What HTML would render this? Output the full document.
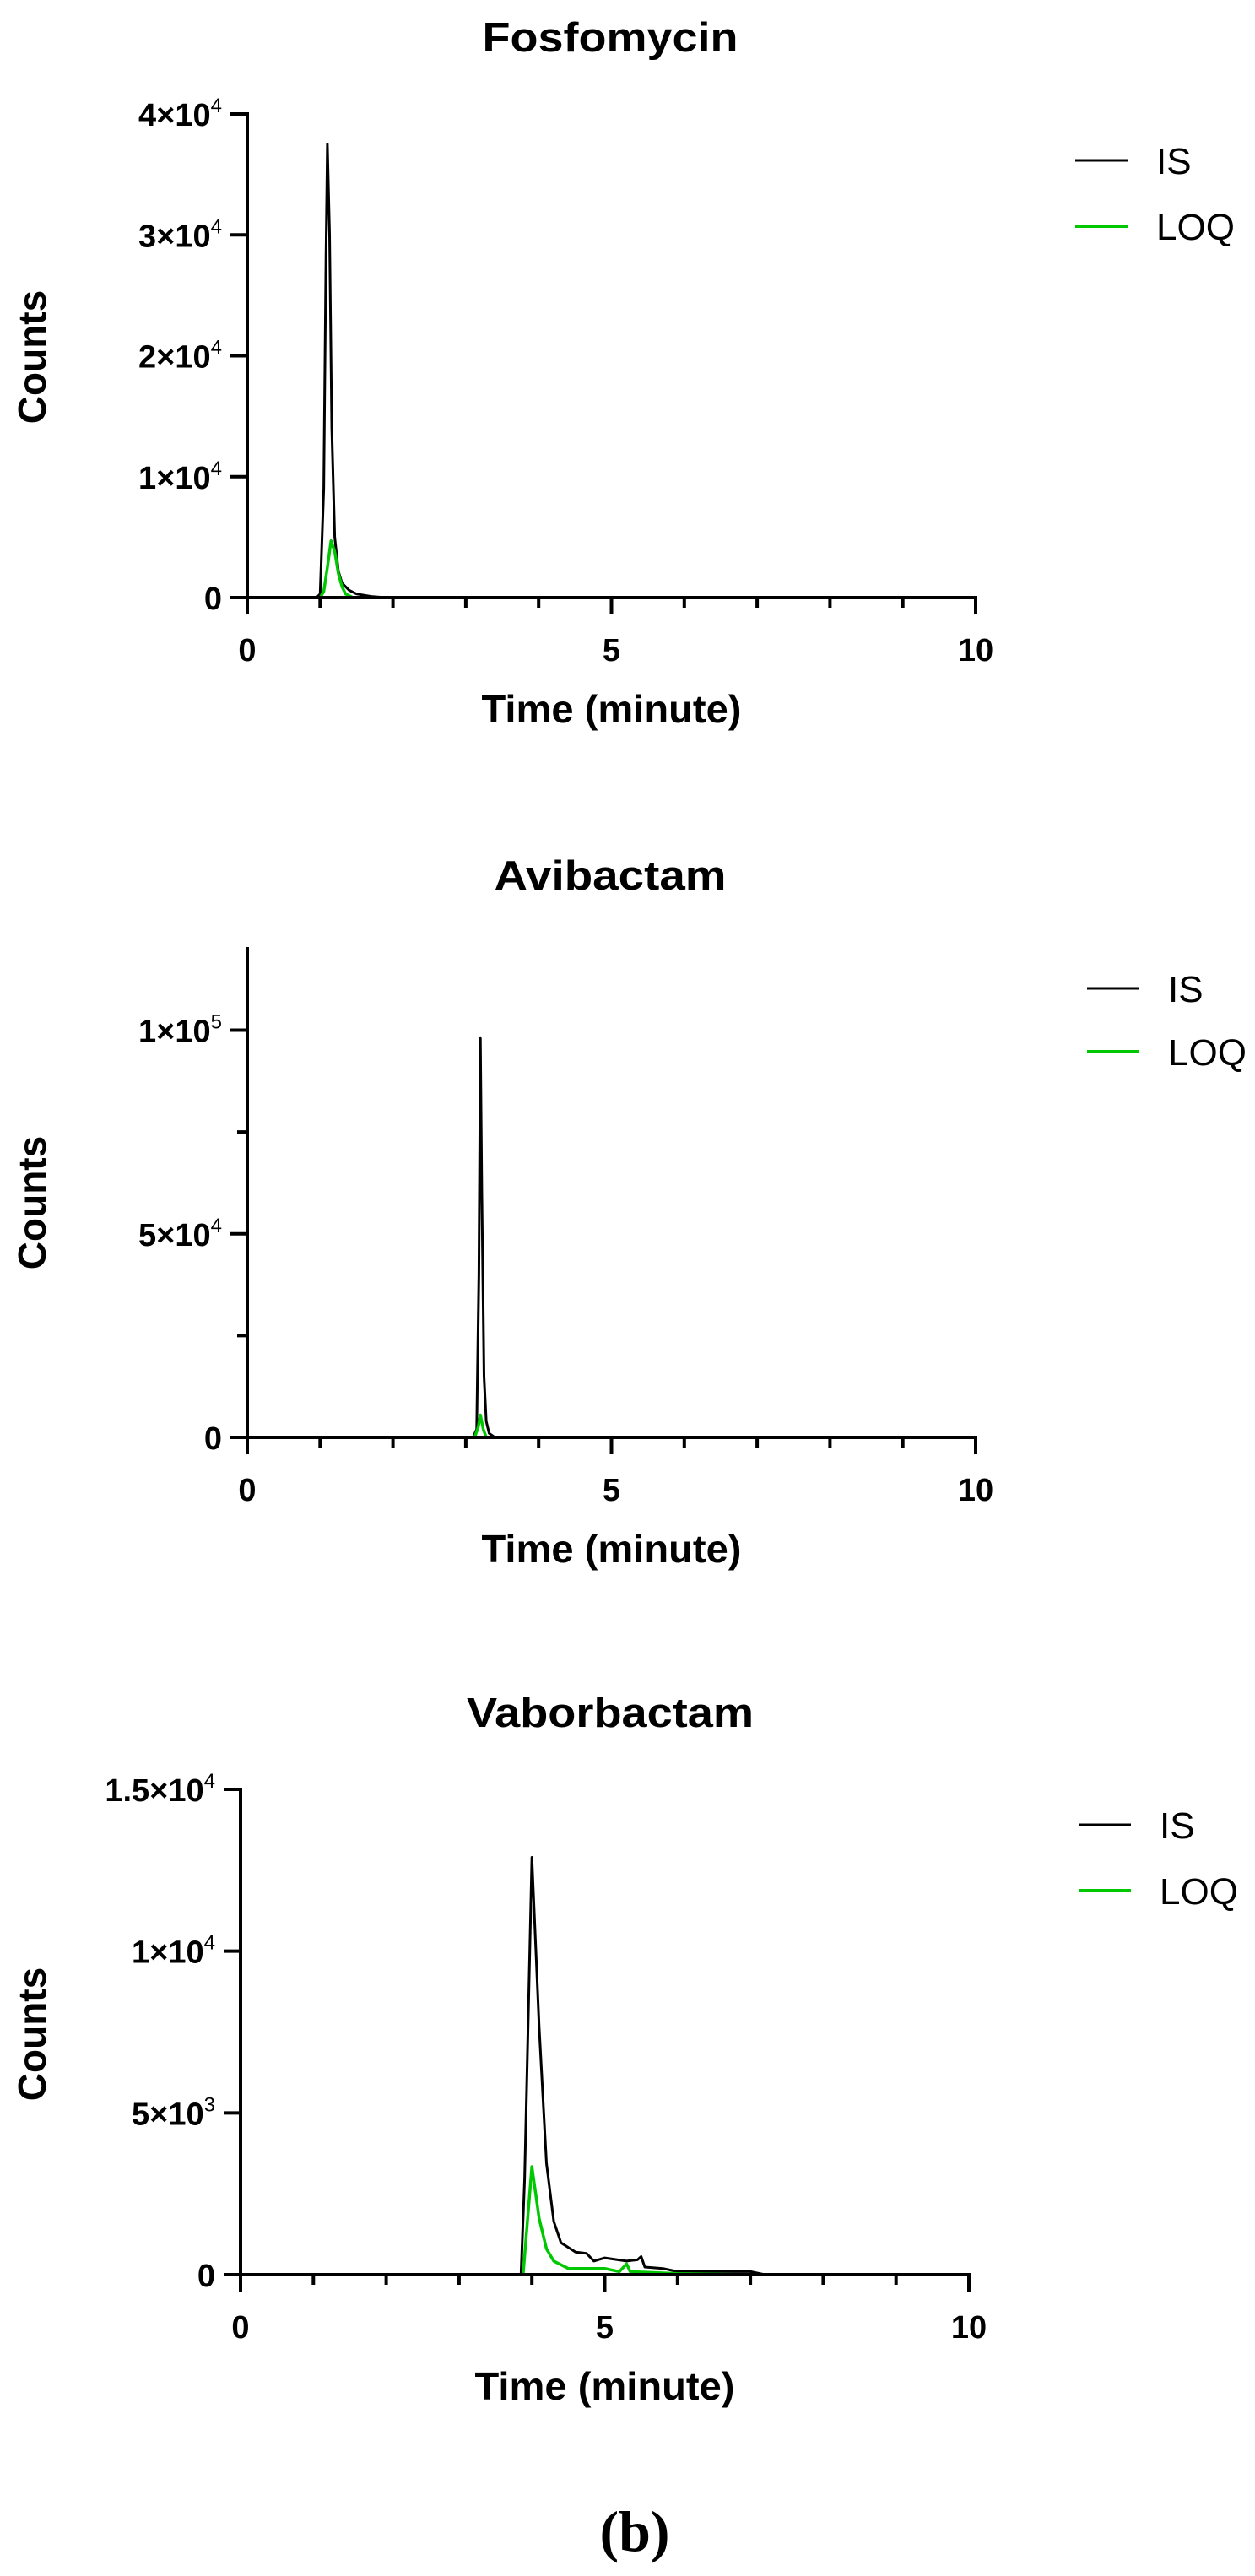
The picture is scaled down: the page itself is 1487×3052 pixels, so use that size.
<!DOCTYPE html>
<html><head><meta charset="utf-8"><style>
html,body{margin:0;padding:0;background:#fff}
svg{display:block}
text{font-family:"Liberation Sans",Arial,sans-serif;font-weight:bold;fill:#000}
</style></head>
<body>
<svg id="fig" width="1487" height="3052" viewBox="0 0 1487 3052" xmlns="http://www.w3.org/2000/svg">
<text x="752" y="3022" text-anchor="middle" style="font-family:'Liberation Serif',serif;font-size:68px;font-weight:bold">(b)</text>
</svg>
<script>
// Fosfomycin
const fosTime = [0, 0.95, 1.0, 1.05, 1.08, 1.1, 1.13, 1.16, 1.2, 1.25, 1.3, 1.4, 1.5, 1.7, 1.9, 10];
const fosIS   = [0, 0, 300, 9000, 28000, 37500, 30000, 14000, 5000, 2200, 1200, 600, 300, 100, 0, 0];
const fosLoqTime = [0, 1.0, 1.05, 1.1, 1.15, 1.2, 1.25, 1.3, 1.35, 1.45, 10];
const fosLOQ  = [0, 0, 500, 2500, 4700, 3800, 2000, 900, 300, 0, 0];
const fosYTicks = [0, 10000, 20000, 30000, 40000];
const fosYLabels = ["0", "1×10", "2×10", "3×10", "4×10"];
const fosYExp = ["", "4", "4", "4", "4"];
// Avibactam
const aviTime = [0, 3.1, 3.15, 3.18, 3.2, 3.22, 3.25, 3.28, 3.32, 3.4, 10];
const aviIS   = [0, 0, 2000, 40000, 98000, 60000, 15000, 4000, 1000, 0, 0];
const aviLoqTime = [0, 3.12, 3.17, 3.2, 3.24, 3.28, 10];
const aviLOQ  = [0, 0, 2500, 5500, 2000, 0, 0];
const aviYTicks = [0, 50000, 100000];
const aviYLabels = ["0", "5×10", "1×10"];
const aviYExp = ["", "4", "5"];
const aviYMinor = [25000, 75000];
// Vaborbactam
const vabTime = [0, 3.85, 3.9, 4.0, 4.1, 4.2, 4.3, 4.4, 4.6, 4.75, 4.85, 5.0, 5.3, 5.45, 5.5, 5.55, 5.8, 6.0, 6.5, 7.0, 7.2, 10];
const vabIS   = [0, 0, 2960, 12900, 7670, 3440, 1650, 990, 700, 660, 420, 520, 420, 460, 560, 235, 190, 95, 95, 95, 0, 0];
const vabLoqTime = [0, 3.88, 4.0, 4.1, 4.2, 4.3, 4.5, 4.75, 5.0, 5.2, 5.3, 5.35, 6.0, 7.0, 10];
const vabLOQ  = [0, 0, 3340, 1740, 800, 420, 190, 190, 190, 95, 330, 95, 30, 0, 0];
const vabYTicks = [0, 5000, 10000, 15000];
const vabYLabels = ["0", "5×10", "1×10", "1.5×10"];
const vabYExp = ["", "3", "4", "4"];
const xTicksMajor = [0, 5, 10];
const xTicksMinor = [1, 2, 3, 4, 6, 7, 8, 9];

const NS = "http://www.w3.org/2000/svg";
const svg = document.getElementById('fig');
function mk(tag, attrs, parent) {
  const e = document.createElementNS(NS, tag);
  for (const k in attrs) e.setAttribute(k, attrs[k]);
  (parent || svg).appendChild(e);
  return e;
}

function chart(cfg) {
  const g = mk('g', {});
  
  
  const xS = v => cfg.x0 + (v / 10) * (cfg.x1 - cfg.x0);
  const yS = v => cfg.y0 - (v / cfg.ymax) * (cfg.y0 - cfg.yTop);

  const t = mk('text', {x: 723, y: cfg.titleY, 'text-anchor': 'middle', 'font-size': 49, textLength: cfg.titleW, lengthAdjust: 'spacingAndGlyphs'}, g);
  t.textContent = cfg.title;
  
  

  const drawLine = (xs, ys, color, w, nm) => {
    let d = '';
    for (let i = 0; i < xs.length; i++) d += (i ? 'L' : 'M') + xS(xs[i]).toFixed(1) + ' ' + yS(ys[i]).toFixed(1);
    const p = mk('path', {d: d, fill: 'none', stroke: color, 'stroke-width': w, 'stroke-linejoin': 'round'}, g);
    
    
  };
  drawLine(cfg.tIS, cfg.vIS, '#000', 3, 'is-series');
  drawLine(cfg.tLOQ, cfg.vLOQ, '#00c800', 3.5, 'loq-series');

  const ya = mk('line', {x1: cfg.x0, y1: cfg.yTop - 2, x2: cfg.x0, y2: cfg.y0 + 2, stroke: '#000', 'stroke-width': 4}, g);
  
  
  const xa = mk('line', {x1: cfg.x0 - 20, y1: cfg.y0, x2: cfg.x1 + 2, y2: cfg.y0, stroke: '#000', 'stroke-width': 4}, g);
  
  

  xTicksMajor.forEach(v => {
    mk('line', {x1: xS(v), y1: cfg.y0, x2: xS(v), y2: cfg.y0 + 20, stroke: '#000', 'stroke-width': 4}, g);
    const tx = mk('text', {x: xS(v), y: cfg.y0 + 75, 'text-anchor': 'middle', 'font-size': 38}, g);
    tx.textContent = String(v);
    
    
  });
  xTicksMinor.forEach(v => {
    mk('line', {x1: xS(v), y1: cfg.y0, x2: xS(v), y2: cfg.y0 + 12, stroke: '#000', 'stroke-width': 4}, g);
  });
  cfg.yTicks.forEach((v, i) => {
    mk('line', {x1: cfg.x0 - 20, y1: yS(v), x2: cfg.x0, y2: yS(v), stroke: '#000', 'stroke-width': 4}, g);
    const ty = mk('text', {x: cfg.x0 - 30, y: yS(v) + 14, 'text-anchor': 'end', 'font-size': 38}, g);
    
    
    ty.appendChild(document.createTextNode(cfg.yLabels[i]));
    if (cfg.yExp[i]) {
      const s = mk('tspan', {dy: -16, 'font-size': 24, style: 'font-weight:normal'}, ty);
      s.textContent = cfg.yExp[i];
    }
  });
  (cfg.yMinor || []).forEach(v => {
    mk('line', {x1: cfg.x0 - 12, y1: yS(v), x2: cfg.x0, y2: yS(v), stroke: '#000', 'stroke-width': 4}, g);
  });

  const xt = mk('text', {x: (cfg.x0 + cfg.x1) / 2, y: cfg.xTitleY + 16, 'text-anchor': 'middle', 'font-size': 46, textLength: 308, lengthAdjust: 'spacingAndGlyphs'}, g);
  xt.textContent = 'Time (minute)';
  
  
  const yt = mk('text', {x: 0, y: 0, 'text-anchor': 'middle', 'font-size': 46, transform: 'translate(' + 54 + ',' + cfg.countsY + ') rotate(-90)'}, g);
  yt.textContent = 'Counts';
  
  

  const lg = mk('g', {}, g);
  
  
  [['IS', '#000', 3, cfg.legY[0]], ['LOQ', '#00c800', 4, cfg.legY[1]]].forEach(([lab, col, w, y]) => {
    mk('line', {x1: cfg.legX, y1: y, x2: cfg.legX + 62, y2: y, stroke: col, 'stroke-width': w}, lg);
    const lt = mk('text', {x: cfg.legX + 96, y: y + 16, 'font-size': 44, style: 'font-weight:normal'}, lg);
    lt.textContent = lab;
    
    
  });
}

chart({name: 'fosfomycin', title: 'Fosfomycin', titleY: 61, titleW: 303, x0: 293, x1: 1156, y0: 708, yTop: 135, ymax: 40000,
  tIS: fosTime, vIS: fosIS, tLOQ: fosLoqTime, vLOQ: fosLOQ, yTicks: fosYTicks, yLabels: fosYLabels, yExp: fosYExp,
  xTitleY: 840, countsY: 423, legX: 1274, legY: [190, 268]});
chart({name: 'avibactam', title: 'Avibactam', titleY: 1054, titleW: 275, x0: 293, x1: 1156, y0: 1703, yTop: 1124, ymax: 120000,
  tIS: aviTime, vIS: aviIS, tLOQ: aviLoqTime, vLOQ: aviLOQ, yTicks: aviYTicks, yLabels: aviYLabels, yExp: aviYExp, yMinor: aviYMinor,
  xTitleY: 1835, countsY: 1425, legX: 1288, legY: [1171, 1246]});
chart({name: 'vaborbactam', title: 'Vaborbactam', titleY: 2046, titleW: 340, x0: 285, x1: 1148, y0: 2695, yTop: 2120, ymax: 15000,
  tIS: vabTime, vIS: vabIS, tLOQ: vabLoqTime, vLOQ: vabLOQ, yTicks: vabYTicks, yLabels: vabYLabels, yExp: vabYExp,
  xTitleY: 2827, countsY: 2410, legX: 1278, legY: [2162, 2240]});
</script>
</body></html>
